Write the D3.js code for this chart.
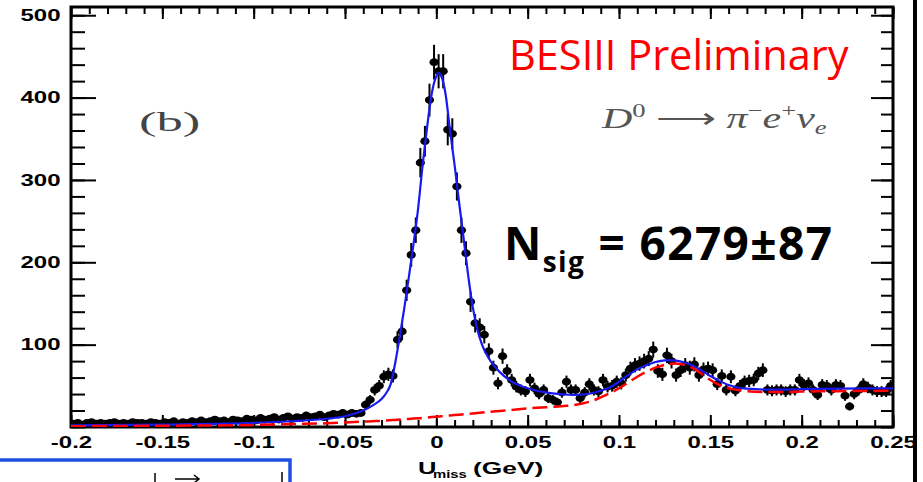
<!DOCTYPE html>
<html>
<head>
<meta charset="utf-8">
<script src="https://cdnjs.cloudflare.com/ajax/libs/d3/7.8.5/d3.min.js"></script>
<style>
    html, body { margin: 0; padding: 0; background: #ffffff; }
    svg { display: block; }
</style>
</head>
<body>
<div id="umiss"></div>
<script>
// histogram of U_miss, 180 bins of 0.0025 GeV starting at -0.2 GeV
var binStart = -0.2,
    binWidth = 0.0025;

var counts = [
    4, 5, 3, 5, 6, 4, 5, 4, 5, 6, 4, 5, 4, 6, 5, 5, 4, 6, 5, 4,
    6, 5, 7, 4, 6, 5, 7, 6, 8, 6, 7, 9, 7, 8, 6, 9, 8, 7, 10, 9,
    8, 11, 9, 10, 12, 9, 11, 13, 10, 12, 11, 14, 12, 13, 15, 12, 14, 16, 15, 17,
    15, 17, 16, 17, 27, 33, 45, 50, 61, 64,
    62, 106, 116, 166, 209, 239, 321, 347, 397, 443,
    432, 432, 361, 356, 292, 239, 211, 152, 126, 121,
    112, 92, 72, 53, 86, 68, 57, 49, 45, 43,
    57, 47, 40, 45, 35, 33, 30, 42, 55, 45,
    45, 35, 42, 52, 45, 43, 57, 49, 50, 55,
    53, 63, 71, 75, 77, 80, 83, 94, 68, 64,
    87, 80, 63, 69, 75, 72, 76, 63, 70, 71,
    69, 52, 62, 45, 61, 44, 50, 55, 56, 57,
    65, 69, 45, 44, 45, 45, 43, 45, 45, 57,
    51, 53, 45, 39, 51, 50, 45, 51, 50, 38,
    25, 40, 45, 52, 48, 45, 43, 43, 43, 50
];

// fit curves at these U_miss values (GeV)
var fitX = [-0.2, -0.15, -0.1, -0.08, -0.06, -0.05, -0.045, -0.04, -0.035, -0.03,
    -0.0275, -0.025, -0.0225, -0.02, -0.0175, -0.015, -0.0125, -0.01, -0.0075, -0.005,
    -0.0025, 0, 0.001, 0.0025, 0.005, 0.0075, 0.01, 0.0125, 0.015, 0.0175,
    0.02, 0.0225, 0.025, 0.03, 0.035, 0.04, 0.045, 0.05, 0.055, 0.06,
    0.065, 0.07, 0.075, 0.08, 0.085, 0.09, 0.095, 0.1, 0.105, 0.11,
    0.115, 0.12, 0.125, 0.13, 0.135, 0.14, 0.145, 0.15, 0.155, 0.16,
    0.165, 0.17, 0.18, 0.19, 0.2, 0.22, 0.25];

var totalFit = [2, 3, 5, 7, 10, 13, 16, 20, 26, 34,
    41, 52, 78, 110, 145, 183, 222, 265, 318, 365,
    405, 426, 430, 427, 405, 360, 318, 272, 228, 183,
    145, 118, 100, 79, 66, 57, 51, 47, 44, 42,
    40.5, 39.5, 39, 39.5, 41, 44, 48, 55, 63, 70,
    75, 79, 81, 81, 79, 75, 69, 62, 56, 51,
    48, 46.5, 45.5, 45.5, 46, 46.5, 47];

var bkgFit = [1, 1.5, 2.5, 3.5, 4.5, 5.5, 6, 6.5, 7, 7.5,
    8, 8.3, 8.6, 9, 9.4, 9.8, 10.2, 10.6, 11, 11.5,
    12, 12.5, 12.7, 13, 13.5, 14, 14.5, 15, 15.5, 16,
    16.5, 17, 17.5, 18.5, 19.5, 20.5, 21.5, 22.5, 23.3, 24,
    24.7, 25.5, 26.5, 28.5, 31.5, 36, 41, 47, 54, 61,
    67, 72, 75.5, 77, 76, 72, 65, 57, 51, 47,
    45, 43.5, 42.5, 42.5, 43, 43.5, 44];

var xMajorTicks = [-0.2, -0.15, -0.1, -0.05, 0, 0.05, 0.1, 0.15, 0.2, 0.25];
var yMajorTicks = [100, 200, 300, 400, 500];

(function () {

    makeChart();

    function makeChart() {

        var width = 923,
            height = 482;

        //plot frame in pixels
        var frame = { left: 71, right: 893, top: 7, bottom: 427 };

        var x = d3.scaleLinear()
            .domain([-0.2, 0.25])
            .range([frame.left, frame.right]);

        var y = d3.scaleLinear()
            .domain([0, 510])
            .range([frame.bottom, frame.top]);

        var xMinor = x.ticks(45),  // 0.01 GeV steps
            yMinor = y.ticks(25);  // 20 event steps

        var svg = d3.select("#umiss").append("svg")
            .attr("width", width)
            .attr("height", height);

        svg.append("defs").append("clipPath")
            .attr("id", "plotClip")
            .append("rect")
            .attr("x", frame.left)
            .attr("y", frame.top)
            .attr("width", frame.right - frame.left)
            .attr("height", frame.bottom - frame.top);

        var axisFont = "'Liberation Sans', Arial, sans-serif";

        //minor ticks first, majors on top
        function drawAxis(axis, tx, ty, size, values, labels) {
            var g = svg.append("g")
                .attr("transform", "translate(" + tx + "," + ty + ")")
                .call(axis.tickValues(values).tickSize(size).tickSizeOuter(0));
            g.select(".domain").remove();
            g.selectAll(".tick line")
                .attr("stroke", "#000")
                .attr("stroke-width", 2);
            if (!labels) {
                g.selectAll(".tick text").remove();
            }
            return g;
        }

        // bottom axis
        drawAxis(d3.axisBottom(x), 0, frame.bottom, -7, xMinor, false);
        var xAxisG = drawAxis(d3.axisBottom(x).tickPadding(10).tickFormat(function (d) {
            return String(+d.toFixed(2));
        }), 0, frame.bottom, -12, xMajorTicks, true);

        xAxisG.selectAll(".tick text")
            .attr("transform", "scale(1.5,1)")
            .style("font-family", axisFont)
            .style("font-weight", "bold")
            .style("font-size", "16px")
            .style("fill", "#000");

        // top axis, ticks only
        drawAxis(d3.axisTop(x), 0, frame.top, -7, xMinor, false);
        drawAxis(d3.axisTop(x), 0, frame.top, -12, xMajorTicks, false);

        // left axis
        drawAxis(d3.axisLeft(y), frame.left, 0, -14, yMinor, false);
        var yAxisG = drawAxis(d3.axisLeft(y).tickPadding(7), frame.left, 0, -25, yMajorTicks, true);

        yAxisG.selectAll(".tick text")
            .attr("transform", "scale(1.5,1)")
            .style("font-family", axisFont)
            .style("font-weight", "bold")
            .style("font-size", "16px")
            .style("fill", "#000");

        // right axis, ticks only
        drawAxis(d3.axisRight(y), frame.right, 0, -12, yMinor, false);
        drawAxis(d3.axisRight(y), frame.right, 0, -22, yMajorTicks, false);

        //frame around the pad
        svg.append("rect")
            .attr("x", frame.left)
            .attr("y", frame.top)
            .attr("width", frame.right - frame.left)
            .attr("height", frame.bottom - frame.top)
            .attr("fill", "none")
            .attr("stroke", "#000")
            .attr("stroke-width", 3);

        //data points with sqrt(N) error bars
        var points = counts.map(function (c, i) {
            return { u: binStart + (i + 0.5) * binWidth, n: c };
        });

        var plot = svg.append("g").attr("clip-path", "url(#plotClip)");

        plot.selectAll(".err")
            .data(points)
            .enter().append("line")
            .attr("class", "err")
            .attr("x1", function (d) { return x(d.u); })
            .attr("x2", function (d) { return x(d.u); })
            .attr("y1", function (d) { return y(d.n + Math.sqrt(d.n)); })
            .attr("y2", function (d) { return y(Math.max(0, d.n - Math.sqrt(d.n))); })
            .attr("stroke", "#000")
            .attr("stroke-width", 2);

        plot.selectAll(".pt")
            .data(points)
            .enter().append("ellipse")
            .attr("class", "pt")
            .attr("cx", function (d) { return x(d.u); })
            .attr("cy", function (d) { return y(d.n); })
            .attr("rx", 4.6)
            .attr("ry", 3.9)
            .attr("fill", "#000");

        //fit curves
        var fitLine = function (vals) {
            return d3.line()
                .x(function (d, i) { return x(fitX[i]); })
                .y(function (d) { return y(d); })
                .curve(d3.curveMonotoneX)(vals);
        };

        plot.append("path")
            .attr("d", fitLine(totalFit))
            .attr("fill", "none")
            .attr("stroke", "#1818f0")
            .attr("stroke-width", 2.2);

        plot.append("path")
            .attr("d", fitLine(bkgFit))
            .attr("fill", "none")
            .attr("stroke", "#ff0000")
            .attr("stroke-width", 2.5)
            .attr("stroke-dasharray", "15,6");

        //pad labels
        svg.append("text")
            .attr("transform", "translate(139,131) scale(1.95,1)")
            .style("font-family", "'Liberation Serif', 'Times New Roman', serif")
            .style("font-size", "27px")
            .style("fill", "#444")
            .text("(b)");

        var decay = svg.append("text")
            .attr("transform", "translate(602,128) scale(1.4,1)")
            .style("font-family", "'Liberation Serif', 'Times New Roman', serif")
            .style("font-size", "30px")
            .style("fill", "#555");
        decay.append("tspan").style("font-style", "italic").text("D");
        decay.append("tspan").attr("dy", -11).style("font-size", "19px").text("0");
        decay.append("tspan").attr("dy", 11).text(" \u27f6 ");
        decay.append("tspan").style("font-style", "italic").text("\u03c0");
        decay.append("tspan").attr("dy", -11).style("font-size", "19px").text("\u2212");
        decay.append("tspan").attr("dy", 11).style("font-style", "italic").text("e");
        decay.append("tspan").attr("dy", -11).style("font-size", "19px").text("+");
        decay.append("tspan").attr("dy", 11).style("font-style", "italic").text("\u03bd");
        decay.append("tspan").attr("dy", 6).style("font-size", "19px").style("font-style", "italic").text("e");

        //slide overlay text
        svg.append("text")
            .attr("x", 509)
            .attr("y", 70)
            .style("font-family", "'Open Sans', sans-serif")
            .style("font-size", "41.5px")
            .style("fill", "#ff0000")
            .text("BESIII Preliminary");

        var nsig = svg.append("text")
            .attr("x", 504)
            .attr("y", 260)
            .attr("textLength", 328)
            .attr("lengthAdjust", "spacing")
            .style("font-family", "'Open Sans', sans-serif")
            .style("font-weight", "bold")
            .style("font-size", "46px")
            .style("fill", "#000");
        nsig.append("tspan").text("N");
        nsig.append("tspan").attr("dy", 12).style("font-size", "28px").text("sig");
        nsig.append("tspan").attr("dy", -12).text(" = 6279\u00b187");

        //axis title at the bottom edge
        svg.append("text")
            .attr("transform", "translate(418,474) scale(1.5,1)")
            .style("font-family", axisFont)
            .style("font-weight", "bold")
            .style("font-size", "17px")
            .text("U");
        svg.append("text")
            .attr("transform", "translate(433,478) scale(1.35,1)")
            .style("font-family", axisFont)
            .style("font-weight", "bold")
            .style("font-size", "11px")
            .text("miss");
        svg.append("text")
            .attr("transform", "translate(473,474) scale(1.55,1)")
            .style("font-family", axisFont)
            .style("font-weight", "bold")
            .style("font-size", "17px")
            .text("(GeV)");

        //slide border on the right
        svg.append("line")
            .attr("x1", 915).attr("x2", 915)
            .attr("y1", 0).attr("y2", height)
            .attr("stroke", "#000")
            .attr("stroke-width", 4);

        //blue box of the next panel, bottom left
        var box = svg.append("g");
        box.append("rect")
            .attr("x", -5)
            .attr("y", 460)
            .attr("width", 295)
            .attr("height", 40)
            .attr("fill", "none")
            .attr("stroke", "#1f4fe0")
            .attr("stroke-width", 3.5);
        box.append("line")
            .attr("x1", 155).attr("x2", 155)
            .attr("y1", 473).attr("y2", height)
            .attr("stroke", "#000").attr("stroke-width", 1.5);
        box.append("line")
            .attr("x1", 282).attr("x2", 282)
            .attr("y1", 472).attr("y2", height)
            .attr("stroke", "#000").attr("stroke-width", 1.5);
        box.append("path")
            .attr("d", "M175,479H199M194,475L199,479L194,483")
            .attr("fill", "none")
            .attr("stroke", "#000")
            .attr("stroke-width", 1.5);
    }

})();
</script>
</body>
</html>
